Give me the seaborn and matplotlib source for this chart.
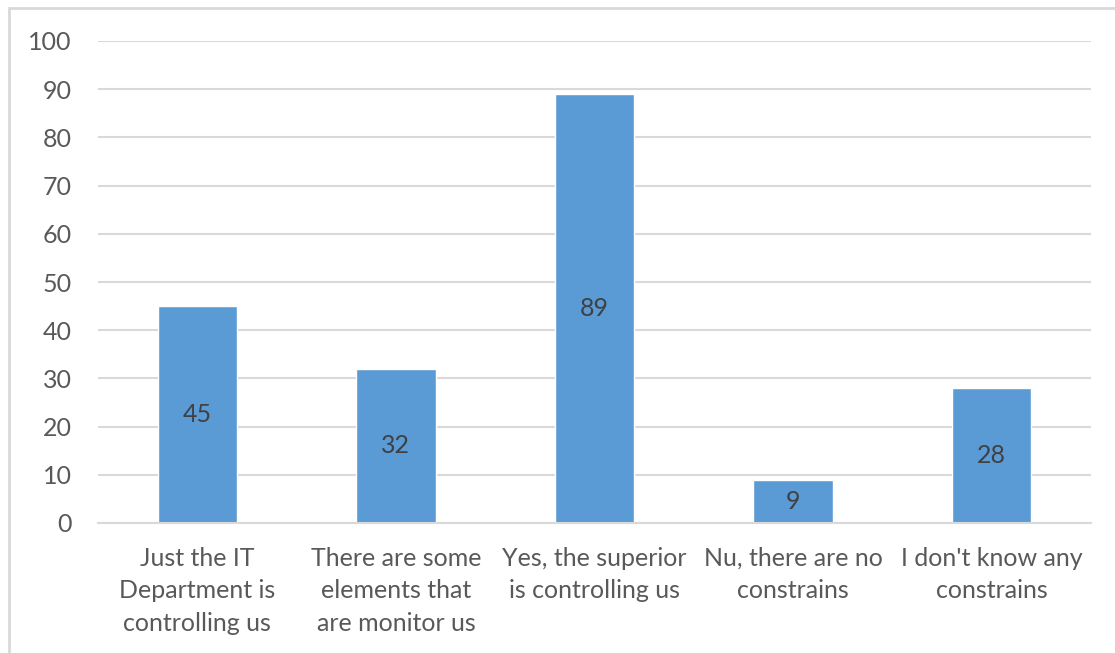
import matplotlib
matplotlib.use("Agg")
import matplotlib.pyplot as plt
import seaborn as sns
import pandas as pd
from matplotlib.patches import Rectangle

categories = [
    "Just the IT\nDepartment is\ncontrolling us",
    "There are some\nelements that\nare monitor us",
    "Yes, the superior\nis controlling us",
    "Nu, there are no\nconstrains",
    "I don't know any\nconstrains",
]
values = [45, 32, 89, 9, 28]
y_ticks = [0, 10, 20, 30, 40, 50, 60, 70, 80, 90, 100]

sns.set_theme(style="white")
plt.rcParams["font.family"] = ["Lato", "DejaVu Sans"]

df = pd.DataFrame({"category": categories, "value": values})

fig = plt.figure(figsize=(11.15, 6.53), dpi=100)
ax = fig.add_axes([98 / 1115, 1 - 523 / 653, (1091 - 98) / 1115, (523 - 41) / 653])

# outer chart frame
fig.patches.append(Rectangle((9 / 1115, -0.1), 1.2, 1 - 8 / 653 + 0.1,
                             transform=fig.transFigure, fill=False,
                             edgecolor="#D9D9D9", linewidth=2, zorder=0))

sns.barplot(data=df, x="category", y="value", color="#5B9BD5", width=0.4,
            saturation=1, ax=ax, zorder=3)

ax.set_ylim(0, 100)
ax.set_xlim(-0.5, 4.5)
ax.set_yticks(y_ticks)
ax.yaxis.grid(True, color="#D9D9D9", linewidth=1.5)
ax.set_axisbelow(True)
for side in ["left", "right", "top"]:
    ax.spines[side].set_visible(False)
ax.spines["bottom"].set_color("#D9D9D9")
ax.spines["bottom"].set_linewidth(1.5)
ax.spines["bottom"].set_zorder(4)
ax.tick_params(axis="both", length=0, labelsize=18, labelcolor="#595959")
ax.tick_params(axis="x", pad=17)
ax.tick_params(axis="y", pad=19)
for lbl in ax.get_xticklabels():
    lbl.set_linespacing(1.5)
ax.set_xlabel("")
ax.set_ylabel("")

for container in ax.containers:
    ax.bar_label(container, labels=[str(v) for v in values], label_type="center",
                 fontsize=18, color="#404040")

fig.savefig("out.png", dpi=100)
